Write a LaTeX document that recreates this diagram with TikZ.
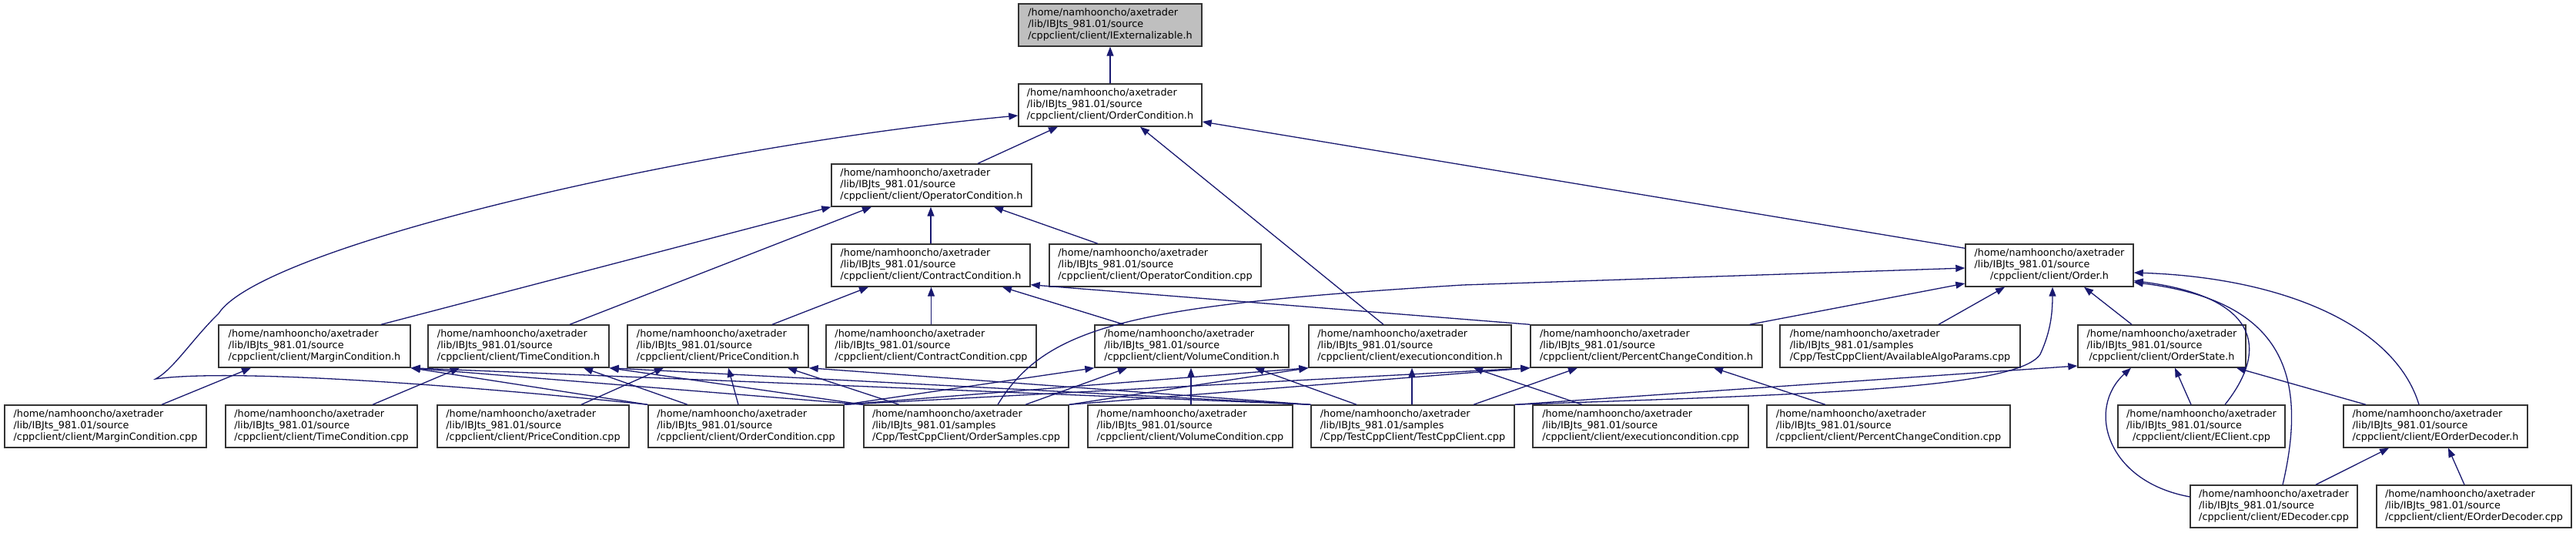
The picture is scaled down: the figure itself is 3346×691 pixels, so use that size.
\documentclass[tikz,border=0pt]{standalone}
\usepackage{fontspec}
\setmainfont{DejaVu Sans}
\usetikzlibrary{arrows.meta}
\definecolor{edgeblue}{HTML}{191970}
\definecolor{rootgray}{HTML}{BFBFBF}
\definecolor{boxline}{HTML}{333333}
\tikzset{
  nbox/.style={draw=boxline, line width=1.4pt, fill=white, inner sep=0pt,
    minimum height=55pt, align=center, font=\fontsize{12.8}{14.7}\selectfont},
  rootbox/.style={nbox, fill=rootgray},
  dep/.style={draw=edgeblue, line width=1.3pt, -{Triangle[length=12pt,width=9pt]}}
}
% name, center, width, lib-suffix, last line, style
\newcommand\fnode[6]{\node[#6, minimum width=#3pt] (#1) at (#2) {\begin{tabular}{@{}l@{}}/home/namhooncho/axetrader\\/lib/IBJts\_981.01/#4\\\multicolumn{1}{@{}c@{}}{#5}\end{tabular}};}
\begin{document}
\begin{tikzpicture}[x=1pt,y=-1pt]
\fill[white] (0,0) rectangle (3346,691);
\useasboundingbox (0,0) rectangle (3346,691);
% row 0,1,2
\fnode{IExt}{1442,32.5}{238}{source}{/cppclient/client/IExternalizable.h}{rootbox}
\fnode{OrdCondH}{1442,136.5}{238}{source}{/cppclient/client/OrderCondition.h}{nbox}
\fnode{OperH}{1210,240.5}{260}{source}{/cppclient/client/OperatorCondition.h}{nbox}
% row 3
\fnode{ContrH}{1209,344.5}{258}{source}{/cppclient/client/ContractCondition.h}{nbox}
\fnode{OperCpp}{1500.5,344.5}{275}{source}{/cppclient/client/OperatorCondition.cpp}{nbox}
\fnode{OrderH}{2662,344.5}{218}{source}{/cppclient/client/Order.h}{nbox}
% row 4
\fnode{MarginH}{408.5,449.5}{249}{source}{/cppclient/client/MarginCondition.h}{nbox}
\fnode{TimeH}{673.5,449.5}{235}{source}{/cppclient/client/TimeCondition.h}{nbox}
\fnode{PriceH}{932.5,449.5}{235}{source}{/cppclient/client/PriceCondition.h}{nbox}
\fnode{ContrCpp}{1209.5,449.5}{273}{source}{/cppclient/client/ContractCondition.cpp}{nbox}
\fnode{VolH}{1548,449.5}{252}{source}{/cppclient/client/VolumeCondition.h}{nbox}
\fnode{ExecH}{1831.5,449.5}{263}{source}{/cppclient/client/executioncondition.h}{nbox}
\fnode{PctH}{2138.5,449.5}{301}{source}{/cppclient/client/PercentChangeCondition.h}{nbox}
\fnode{AlgoCpp}{2468,449.5}{312}{samples}{/Cpp/TestCppClient/AvailableAlgoParams.cpp}{nbox}
\fnode{OStateH}{2808,449.5}{218}{source}{/cppclient/client/OrderState.h}{nbox}
% row 5
\fnode{MarginCpp}{137,553.5}{262}{source}{/cppclient/client/MarginCondition.cpp}{nbox}
\fnode{TimeCpp}{417.5,553.5}{249}{source}{/cppclient/client/TimeCondition.cpp}{nbox}
\fnode{PriceCpp}{692.5,553.5}{249}{source}{/cppclient/client/PriceCondition.cpp}{nbox}
\fnode{OrdCondCpp}{969,553.5}{254}{source}{/cppclient/client/OrderCondition.cpp}{nbox}
\fnode{OrdSampCpp}{1255,553.5}{266}{samples}{/Cpp/TestCppClient/OrderSamples.cpp}{nbox}
\fnode{VolCpp}{1546,553.5}{266}{source}{/cppclient/client/VolumeCondition.cpp}{nbox}
\fnode{TestCpp}{1835,553.5}{264}{samples}{/Cpp/TestCppClient/TestCppClient.cpp}{nbox}
\fnode{ExecCpp}{2131,553.5}{280}{source}{/cppclient/client/executioncondition.cpp}{nbox}
\fnode{PctCpp}{2453,553.5}{316}{source}{/cppclient/client/PercentChangeCondition.cpp}{nbox}
\fnode{EClientCpp}{2859.5,553.5}{217}{source}{/cppclient/client/EClient.cpp}{nbox}
\fnode{EODecH}{3163.5,553.5}{239}{source}{/cppclient/client/EOrderDecoder.h}{nbox}
% row 6
\fnode{EDecCpp}{2953.5,657.5}{217}{source}{/cppclient/client/EDecoder.cpp}{nbox}
\fnode{EODecCpp}{3213.5,657.5}{253}{source}{/cppclient/client/EOrderDecoder.cpp}{nbox}

% ---- edges ----
\draw[dep] (OrdCondH.north) -- (IExt.south);
\draw[dep] ([xshift=60pt]OperH.north) -- ([xshift=-68pt]OrdCondH.south);
\draw[dep] ([xshift=-34.5pt]ExecH.north) -- ([xshift=39pt]OrdCondH.south);
\draw[dep] ([yshift=-6pt]OrderH.north west) -- ([yshift=-21.5pt]OrdCondH.east);
\draw[dep] (OrdCondCpp.north west) .. controls (600,500) and (300,478) .. (202,492)
  .. controls (225,480) and (250,440) .. (284,407)
  .. controls (340,320) and (900,190) .. ([yshift=-13.5pt]OrdCondH.west);
% into OperatorCondition.h
\draw[dep] ([xshift=86.5pt]MarginH.north) -- (OperH.south west);
\draw[dep] ([xshift=66.5pt]TimeH.north) -- ([xshift=-78pt]OperH.south);
\draw[dep] (ContrH.north) -- (ContrH.north |- OperH.south);
\draw[dep] ([xshift=-74.5pt]OperCpp.north) -- ([xshift=81pt]OperH.south);
% into ContractCondition.h
\draw[dep] ([xshift=70.5pt]PriceH.north) -- ([xshift=-81pt]ContrH.south);
\draw[dep] (ContrCpp.north) -- (ContrCpp.north |- ContrH.south);
\draw[dep] ([xshift=-88pt]VolH.north) -- ([xshift=93pt]ContrH.south);
\draw[dep] (PctH.north west) -- ([yshift=3pt]ContrH.south east);
% into Order.h
\draw[dep] ([xshift=41pt]OrdSampCpp.north) .. controls (1360,420) and (1480,396) .. (1900,370) -- ([yshift=-3.5pt]OrderH.west);
\draw[dep] ([xshift=-17pt]PctH.north east) -- ([yshift=-23.5pt]OrderH.west);
\draw[dep] ([xshift=50pt]AlgoCpp.north) -- ([xshift=-58pt]OrderH.south);
\draw[dep] (TestCpp.north east) .. controls (2350,512) and (2620,505) .. (2650,460)
  .. controls (2664,430) and (2666,405) .. ([xshift=4pt]OrderH.south);
\draw[dep] ([xshift=-39pt]OStateH.north) -- ([xshift=45pt]OrderH.south);
\draw[dep] ([xshift=30.5pt]EClientCpp.north) .. controls (2950,450) and (2930,385) .. ([yshift=-20pt]OrderH.east);
\draw[dep] ([xshift=11.5pt]EDecCpp.north) .. controls (3000,480) and (2960,390) .. ([yshift=-22pt]OrderH.east);
\draw[dep] ([xshift=-21.5pt]EODecH.north) .. controls (3110,420) and (2960,360) .. ([yshift=-9.5pt]OrderH.east);
% into OrderState.h
\draw[dep] (TestCpp.north east) -- ([yshift=-25.5pt]OStateH.west);
\draw[dep] ([xshift=-13.5pt]EClientCpp.north) -- ([xshift=17pt]OStateH.south);
\draw[dep] ([xshift=-90.5pt]EODecH.north) -- ([xshift=97pt]OStateH.south);
\draw[dep] ([yshift=12.5pt]EDecCpp.west) .. controls (2735,625) and (2710,530) .. ([xshift=-40pt]OStateH.south);
% into EOrderDecoder.h
\draw[dep] ([xshift=54.5pt]EDecCpp.north) -- ([xshift=-60.5pt]EODecH.south);
\draw[dep] ([xshift=-12.5pt]EODecCpp.north) -- ([xshift=16.5pt]EODecH.south);
% into PercentChangeCondition.h
\draw[dep] ([xshift=-82pt]PctCpp.north) -- ([xshift=87.5pt]PctH.south);
\draw[dep] ([xshift=79pt]TestCpp.north) -- ([xshift=-89.5pt]PctH.south);
\draw[dep] (OrdCondCpp.north east) -- (PctH.south west);
\draw[dep] (OrdSampCpp.north east) -- (PctH.south west);
% into executioncondition.h
\draw[dep] ([xshift=-76pt]ExecCpp.north) -- ([xshift=82.5pt]ExecH.south);
\draw[dep] ([xshift=-1pt]TestCpp.north) -- ([xshift=2.5pt]ExecH.south);
\draw[dep] (OrdCondCpp.north east) -- (ExecH.south west);
\draw[dep] (OrdSampCpp.north east) -- (ExecH.south west);
% into VolumeCondition.h
\draw[dep] ([xshift=-73pt]TestCpp.north) -- ([xshift=82pt]VolH.south);
\draw[dep] ([xshift=1pt]VolCpp.north) -- ([xshift=-1pt]VolH.south);
\draw[dep] ([xshift=77pt]OrdSampCpp.north) -- ([xshift=-84pt]VolH.south);
\draw[dep] (OrdCondCpp.north east) -- (VolH.south west);
% into MarginCondition.h
\draw[dep] ([xshift=73pt]MarginCpp.north) -- ([xshift=-82.5pt]MarginH.south);
\draw[dep] (OrdCondCpp.north west) -- (MarginH.south east);
\draw[dep] (OrdSampCpp.north west) -- (MarginH.south east);
\draw[dep] (TestCpp.north west) -- (MarginH.south east);
% into TimeCondition.h
\draw[dep] ([xshift=66.5pt]TimeCpp.north) -- ([xshift=-76.5pt]TimeH.south);
\draw[dep] ([xshift=-76pt]OrdCondCpp.north) -- ([xshift=84.5pt]TimeH.south);
\draw[dep] (OrdSampCpp.north west) -- (TimeH.south east);
\draw[dep] (TestCpp.north west) -- (TimeH.south east);
% into PriceCondition.h
\draw[dep] ([xshift=62.5pt]PriceCpp.north) -- ([xshift=-70.5pt]PriceH.south);
\draw[dep] ([xshift=-10pt]OrdCondCpp.north) -- ([xshift=13.5pt]PriceH.south);
\draw[dep] ([xshift=-87pt]OrdSampCpp.north) -- ([xshift=90.5pt]PriceH.south);
\draw[dep] (TestCpp.north west) -- (PriceH.south east);
\end{tikzpicture}
\end{document}
